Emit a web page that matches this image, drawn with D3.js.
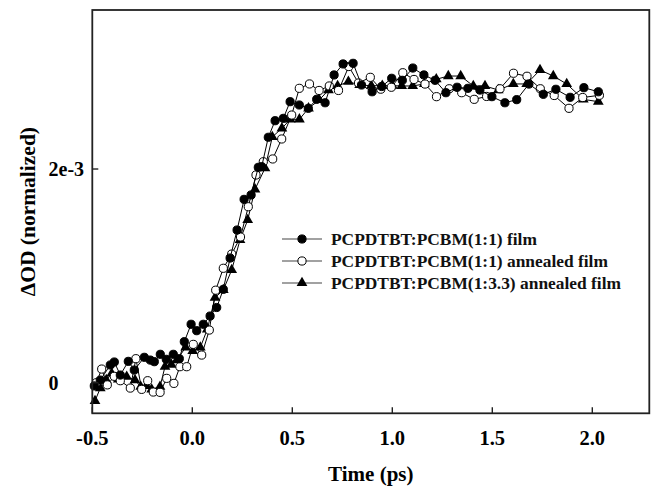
<!DOCTYPE html>
<html><head><meta charset="utf-8">
<script src="https://cdn.jsdelivr.net/npm/d3@7"></script>
<style>body{margin:0;background:#fff}svg{display:block}</style>
</head><body><svg id="c" width="652" height="489"></svg>
<script>
// values in units of 1e-3 (ΔOD normalized)
const seriesNames = ["PCPDTBT:PCBM(1:1) film","PCPDTBT:PCBM(1:1) annealed film","PCPDTBT:PCBM(1:3.3) annealed film"];
const xTicks = [-0.5,0.0,0.5,1.0,1.5,2.0];
const xTickLabels = ["-0.5","0.0","0.5","1.0","1.5","2.0"];
const yTicks = [0,2];
const yTickLabels = ["0","2e-3"];

const filmT = [-0.49,-0.46,-0.41,-0.39,-0.36,-0.32,-0.29,-0.24,-0.21,-0.19,-0.16,-0.13,-0.095,-0.065,-0.04,-0.006,0.022,0.055,0.089,0.122,0.155,0.189,0.224,0.259,0.294,0.33,0.347,0.38,0.414,0.455,0.489,0.535,0.58,0.622,0.664,0.709,0.754,0.804,0.846,0.899,0.947,0.997,1.05,1.1025,1.158,1.214,1.268,1.324,1.378,1.438,1.498,1.563,1.622,1.683,1.755,1.818,1.889,1.958,2.03];
const filmV = [-0.03,0.025,0.166,0.194,0.072,0.200,0.119,0.238,0.212,0.197,0.266,0.219,0.266,0.225,0.384,0.547,0.487,0.547,0.624,0.704,0.874,1.167,1.429,1.716,1.757,2.016,2.022,2.297,2.452,2.474,2.630,2.599,2.568,2.652,2.620,2.880,2.983,2.989,2.786,2.723,2.772,2.849,2.83,2.945,2.880,2.830,2.714,2.765,2.755,2.739,2.677,2.620,2.649,2.795,2.699,2.746,2.671,2.761,2.723];

const annT = [-0.48,-0.453,-0.425,-0.39,-0.36,-0.31,-0.282,-0.253,-0.223,-0.195,-0.161,-0.128,-0.092,-0.062,-0.028,0.005,0.047,0.085,0.117,0.155,0.197,0.241,0.28,0.3185,0.355,0.402,0.447,0.497,0.535,0.586,0.634,0.685,0.731,0.7825,0.831,0.89,0.9425,0.995,1.0525,1.1085,1.1635,1.221,1.2845,1.347,1.4095,1.4715,1.5385,1.606,1.6735,1.74,1.8095,1.8835,1.952,2.0355];
const annV = [0.0,0.128,-0.02,0.06,0.019,-0.05,0.225,-0.062,0.019,-0.087,-0.09,0.041,-0.006,0.15,0.15,0.359,0.259,0.493,0.866,1.071,1.204,1.364,1.647,1.944,2.068,2.094,2.281,2.505,2.755,2.796,2.735,2.777,2.735,2.959,2.805,2.858,2.747,2.765,2.901,2.838,2.795,2.677,2.751,2.714,2.652,2.679,2.751,2.896,2.868,2.751,2.688,2.568,2.669,2.690];

const ann33T = [-0.4865,-0.46,-0.43,-0.403,-0.37,-0.328,-0.2865,-0.258,-0.23,-0.203,-0.1615,-0.1365,-0.105,-0.078,-0.033,0.002,0.04,0.075,0.1135,0.155,0.197,0.2385,0.277,0.3135,0.3635,0.40,0.448,0.49,0.5355,0.581,0.635,0.681,0.7265,0.7805,0.837,0.895,0.95,1.0,1.047,1.102,1.16,1.22,1.28,1.342,1.405,1.4635,1.53,1.605,1.672,1.7385,1.805,1.872,1.955,2.03];
const ann33V = [-0.17,-0.05,0.025,0.088,0.032,0.056,0.025,-0.037,-0.03,-0.062,-0.037,0.15,0.17,0.212,0.331,0.297,0.33,0.50,0.796,0.868,1.055,1.336,1.523,1.81,2.007,2.30,2.381,2.465,2.465,2.568,2.646,2.739,2.777,2.817,2.786,2.78,2.78,2.78,2.777,2.777,2.796,2.84,2.87,2.87,2.777,2.777,2.739,2.796,2.796,2.927,2.87,2.796,2.652,2.63];

const svg = d3.select("#c");
const L = 92.3, R = 649.3, T = 10, B = 413.3;
const x = d3.scaleLinear().domain([-0.5, 2.285]).range([L, R]);
const y = d3.scaleLinear().domain([-0.286, 3.488]).range([B, T]);
const serif = "'Liberation Serif','Times New Roman',Times,serif";

const series = [
  {t: filmT, v: filmV, type: "filled"},
  {t: annT, v: annV, type: "open"},
  {t: ann33T, v: ann33V, type: "tri"}
];

const line = d3.line().x(d => x(d[0])).y(d => y(d[1]));
const tri = d3.symbol().type(d3.symbolTriangle).size(50);

function marker(g, type, cx, cy) {
  if (type === "tri") {
    g.append("path").attr("d", tri()).attr("transform", `translate(${cx},${cy})`).attr("fill", "#000");
  } else {
    g.append("circle").attr("cx", cx).attr("cy", cy).attr("r", 4.1)
      .attr("fill", type === "filled" ? "#000" : "#fff").attr("stroke", "#000").attr("stroke-width", 1);
  }
}

// draw series in reverse so filled circles on top
[2,1,0].forEach(i => {
  const s = series[i];
  const pts = s.t.map((t, k) => [t, s.v[k]]);
  const g = svg.append("g");
  g.append("path").attr("d", line(pts)).attr("fill", "none").attr("stroke", "#000").attr("stroke-width", 1);
  pts.forEach(p => marker(g, s.type, x(p[0]), y(p[1])));
});

// frame
svg.append("rect").attr("x", L).attr("y", T).attr("width", R - L).attr("height", B - T)
  .attr("fill", "none").attr("stroke", "#222").attr("stroke-width", 1.8);

// x axis ticks (inward)
const xa = svg.append("g");
xTicks.forEach((t, i) => {
  xa.append("line").attr("x1", x(t)).attr("x2", x(t)).attr("y1", B).attr("y2", B - 6).attr("stroke", "#222").attr("stroke-width", 1.4);
  xa.append("text").attr("x", x(t)).attr("y", 445).attr("text-anchor", "middle")
    .attr("font-family", serif).attr("font-weight", "bold").attr("font-size", 20.5).text(xTickLabels[i]);
});
// y axis ticks (inward)
const ya = svg.append("g");
yTicks.forEach((v, i) => {
  ya.append("line").attr("x1", L).attr("x2", L + 6).attr("y1", y(v)).attr("y2", y(v)).attr("stroke", "#222").attr("stroke-width", 1.4);
  ya.append("text").attr("x", 48.5).attr("y", y(v)).attr("dy", "0.35em").attr("text-anchor", "start")
    .attr("font-family", serif).attr("font-weight", "bold").attr("font-size", 20).text(yTickLabels[i]);
});

// axis titles
svg.append("text").attr("x", (L + R) / 2).attr("y", 481).attr("text-anchor", "middle")
  .attr("font-family", serif).attr("font-weight", "bold").attr("font-size", 21).text("Time (ps)");
svg.append("text").attr("transform", `translate(35,${(T + B) / 2}) rotate(-90)`).attr("text-anchor", "middle")
  .attr("font-family", serif).attr("font-weight", "bold").attr("font-size", 21.5).text("ΔOD (normalized)");

// legend
const legY = [239, 261, 283];
series.forEach((s, i) => {
  const g = svg.append("g");
  g.append("line").attr("x1", 282).attr("x2", 322).attr("y1", legY[i]).attr("y2", legY[i]).attr("stroke", "#444").attr("stroke-width", 1.2);
  marker(g, s.type, 302, legY[i]);
  g.append("text").attr("x", 331).attr("y", legY[i]).attr("dy", "0.35em")
    .attr("font-family", serif).attr("font-weight", "bold").attr("font-size", 17.4).attr("fill", "#111").text(seriesNames[i]);
});
</script></body></html>
